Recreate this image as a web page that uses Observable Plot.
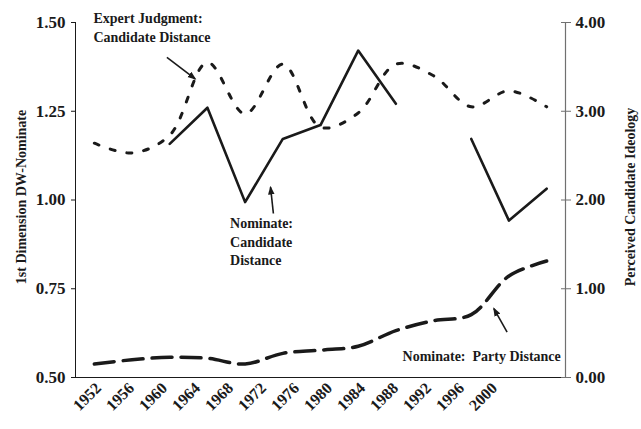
<!DOCTYPE html>
<html><head><meta charset="utf-8">
<script src="https://cdn.jsdelivr.net/npm/d3@7"></script>
<script src="https://cdn.jsdelivr.net/npm/@observablehq/plot@0.6"></script>
<style>
html,body{margin:0;padding:0;background:#fff;}
#chart{position:relative;width:641px;height:429px;}
#chart svg{position:absolute;left:0;top:0;background:transparent;}
</style></head><body><div id="chart"></div>
<script>
// ---- data ----
const years = [1952,1956,1960,1964,1968,1972,1976,1980,1984,1988,1992,1996,2000];
const yearLabels = ["1952","1956","1960","1964","1968","1972","1976","1980","1984","1988","1992","1996","2000"];
// left axis: 1st Dimension DW-Nominate
const nominateCandidate = [null,null,1.158,1.260,0.994,1.172,1.211,1.421,1.271,null,1.172,0.942,1.032];
const nominateParty     = [0.538,0.550,0.557,0.554,0.538,0.568,0.577,0.588,0.632,0.660,0.677,0.786,0.828];
// right axis: Perceived Candidate Ideology
const expertCandidate   = [2.64,2.53,2.73,3.55,2.97,3.53,2.82,2.98,3.53,3.40,3.05,3.23,3.05];
const leftTicks  = [0.50,0.75,1.00,1.25,1.50];
const rightTicks = [0,1,2,3,4];
const leftTitle  = "1st Dimension DW-Nominate";
const rightTitle = "Perceived Candidate Ideology";
// annotations (data units, left axis)
const notes = [
  {x:1951.9, y:1.511, text:"Expert Judgment:", anchor:"start"},
  {x:1951.9, y:1.459, text:"Candidate Distance", anchor:"start"},
  {x:1966.4, y:0.934, text:"Nominate:", anchor:"start"},
  {x:1966.4, y:0.880, text:"Candidate", anchor:"start"},
  {x:1966.4, y:0.830, text:"Distance", anchor:"start"},
  {x:2001.5, y:0.559, text:"Nominate:  Party Distance", anchor:"end"}
];
const arrows = [
  {x1:1959.7, y1:1.402, x2:1962.7, y2:1.341},
  {x1:1971.0, y1:0.962, x2:1970.7, y2:1.036},
  {x1:1995.8, y1:0.628, x2:1994.4, y2:0.694}
];

// right axis values are drawn on the left scale: 0..4 -> 0.5..1.5
const rightToLeft = v => 0.5 + v / 4;
const leftToRight = v => (v - 0.5) * 4;

const rows = years.map((yr, i) => ({
  year: yr,
  cand: nominateCandidate[i],
  party: nominateParty[i],
  expert: rightToLeft(expertCandidate[i])
}));

const FONT = "'Liberation Serif', 'Times New Roman', serif";
const INK = "#1a1a1a";

function filledArrow(color, context) {
  const m = d3.create("svg:marker", context)
    .attr("viewBox", "-6 -5 12 10")
    .attr("markerWidth", 5.5).attr("markerHeight", 5.5)
    .attr("refX", 4)
    .attr("orient", "auto")
    .attr("fill", color).attr("stroke", "none");
  m.append("path").attr("d", "M-6,-4.5L6,0L-6,4.5Z");
  return m.node();
}

function makeMain(arrowMark) {
  return Plot.plot({
    width: 641, height: 429,
    marginLeft: 75, marginRight: 76, marginTop: 22, marginBottom: 52,
    style: {fontFamily: FONT, color: INK, background: "transparent"},
    x: {domain: [1950, 2002], axis: null},
    y: {domain: [0.5, 1.5]},
    marks: [
      Plot.ruleX([1950], {y1: 0.5, y2: 1.5, stroke: INK, strokeWidth: 1}),
      Plot.ruleX([2002], {y1: 0.5, y2: 1.5, stroke: "#707070", strokeWidth: 1.2}),
      Plot.ruleY([0.5], {x1: 1950, x2: 2002, stroke: INK, strokeWidth: 1}),
      Plot.axisY({anchor: "left", ticks: leftTicks, tickFormat: d3.format(".2f"),
        tickSize: 4, tickPadding: 6, label: null, fontSize: 17, fontWeight: "bold", stroke: INK}),
      Plot.axisY({anchor: "right", ticks: rightTicks.map(rightToLeft),
        tickFormat: v => leftToRight(v).toFixed(2),
        tickSize: 5, tickPadding: 5, label: null, fontSize: 17, fontWeight: "bold", stroke: "#707070"}),
      Plot.axisY({anchor: "right", ticks: rightTicks.map(rightToLeft), text: null,
        tickSize: 5, dx: -5, label: null, stroke: "#707070"}),
      Plot.text([leftTitle], {frameAnchor: "left", textAnchor: "middle", dx: -54, dy: -3, rotate: -90,
        fontSize: 14, fontWeight: "bold", fill: INK}),
      Plot.text([rightTitle], {frameAnchor: "right", textAnchor: "middle", dx: 65, dy: -3, rotate: -90,
        fontSize: 14, fontWeight: "bold", fill: INK}),
      Plot.lineY(rows, {x: "year", y: "expert", curve: "catmull-rom", stroke: INK, strokeWidth: 3,
        strokeDasharray: "5,12"}),
      Plot.lineY(rows, {x: "year", y: "party", curve: "catmull-rom", stroke: INK, strokeWidth: 3.5,
        strokeDasharray: "20,9"}),
      Plot.lineY(rows, {x: "year", y: "cand", stroke: INK, strokeWidth: 2.6}),
      arrowMark,
      Plot.text(notes.filter(d => d.anchor === "start"), {x: "x", y: "y", text: "text", textAnchor: "start",
        fontSize: 14, fontWeight: "bold", fill: INK}),
      Plot.text(notes.filter(d => d.anchor === "end"), {x: "x", y: "y", text: "text", textAnchor: "end",
        fontSize: 14, fontWeight: "bold", fill: INK})
    ]
  });
}

let main;
try {
  main = makeMain(Plot.link(arrows, {x1: "x1", y1: "y1", x2: "x2", y2: "y2", stroke: INK,
    strokeWidth: 1.6, markerEnd: filledArrow}));
} catch (e) {
  main = makeMain(Plot.arrow(arrows, {x1: "x1", y1: "y1", x2: "x2", y2: "y2", stroke: INK,
    strokeWidth: 1.8, headLength: 9, headAngle: 50}));
}

// category axis for the year labels (its own point scale)
const yearAxis = Plot.plot({
  width: 641, height: 429,
  marginLeft: 0, marginRight: 0, marginTop: 22, marginBottom: 52,
  style: {fontFamily: FONT, color: INK, background: "transparent"},
  x: {type: "point", domain: yearLabels, range: [95, 496], padding: 0},
  y: {domain: [0, 1], axis: null},
  marks: [
    Plot.axisX({anchor: "bottom", tickRotate: -45, tickSize: 0, tickPadding: 8,
      label: null, fontSize: 16, fontWeight: "bold"})
  ]
});

const el = document.getElementById("chart");
el.appendChild(main);
el.appendChild(yearAxis);
</script></body></html>
